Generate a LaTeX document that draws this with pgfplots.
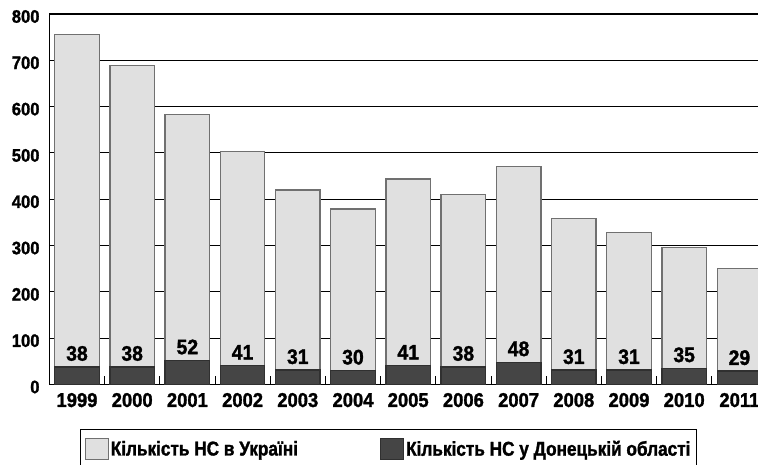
\documentclass[border=0pt]{standalone}
\usepackage{pgfplots}
\pgfplotsset{compat=1.18}
\usepackage{fontspec}
\setmainfont{Liberation Sans}
\newfontfamily\tickf{Liberation Sans Bold}[FakeStretch=0.92, FakeBold=1.5]
\newfontfamily\legf{Liberation Sans Bold}[FakeStretch=0.86, FakeBold=1.5]
\definecolor{lightbar}{HTML}{E0E0E0}
\definecolor{lightedge}{HTML}{707070}
\definecolor{darkbar}{HTML}{454545}
\definecolor{darkedge}{HTML}{303030}
\begin{document}
\begin{tikzpicture}
\useasboundingbox (0,0) rectangle (758bp,465bp);
\clip (0,0) rectangle (758bp,465bp);
\begin{axis}[
  scale only axis,
  width=718bp, height=370.5bp,
  at={(49bp,80.5bp)}, anchor=south west,
  xmin=-0.507, xmax=12.5,
  ymin=0, ymax=800,
  xtick={0,...,12},
  xticklabels={1999,2000,2001,2002,2003,2004,2005,2006,2007,2008,2009,2010,2011},
  minor xtick={-0.5,0.5,...,12.5},
  ytick={0,100,...,800},
  tick pos=left,
  major tick length=0pt,
  minor tick length=9bp,
  tick style={black, line width=0.9bp},
  ymajorgrids,
  grid style={black, line width=0.9bp},
  axis line style={black, line width=1bp},
  /pgf/number format/assume math mode=true,
  yticklabel style={font=\tickf\fontsize{18bp}{20bp}\selectfont, xshift=-6bp, yshift=-2.5bp},
  xticklabel style={font=\tickf\fontsize{20bp}{22bp}\selectfont, yshift=-5bp},
  legend columns=2,
  legend style={at={(0.04318,-0.1209)}, anchor=north west, draw=black, line width=1.2bp,
    inner xsep=4bp, inner ysep=8bp,
    font=\legf\fontsize{20bp}{22bp}\selectfont,
    /tikz/column 2/.style={column sep=80bp}},
]
\addplot[ybar, bar shift=0pt, bar width=44.5bp, fill=lightbar, draw=lightedge, line width=1.3bp,
  legend image code/.code={\draw[fill=lightbar, draw=lightedge, line width=1.2bp] (0bp,-10.5bp) rectangle (23bp,10.5bp);}]
  coordinates {(0,755) (1,689) (2,583) (3,503) (4,420) (5,379) (6,444) (7,411) (8,471) (9,358) (10,328) (11,296) (12,250)};
\addlegendentry{Кількість НС в Україні}
\addplot[ybar, bar shift=0pt, bar width=44.5bp, fill=darkbar, draw=darkedge, line width=1.3bp,
  nodes near coords,
  every node near coord/.append style={font=\tickf\fontsize{21bp}{23bp}\selectfont, text=black, yshift=2bp},
  legend image code/.code={\draw[fill=darkbar, draw=darkedge, line width=1.2bp] (0bp,-10.5bp) rectangle (23bp,10.5bp);}]
  coordinates {(0,38) (1,38) (2,52) (3,41) (4,31) (5,30) (6,41) (7,38) (8,48) (9,31) (10,31) (11,35) (12,29)};
\addlegendentry{Кількість НС у Донецькій області}
\end{axis}
\end{tikzpicture}
\end{document}
